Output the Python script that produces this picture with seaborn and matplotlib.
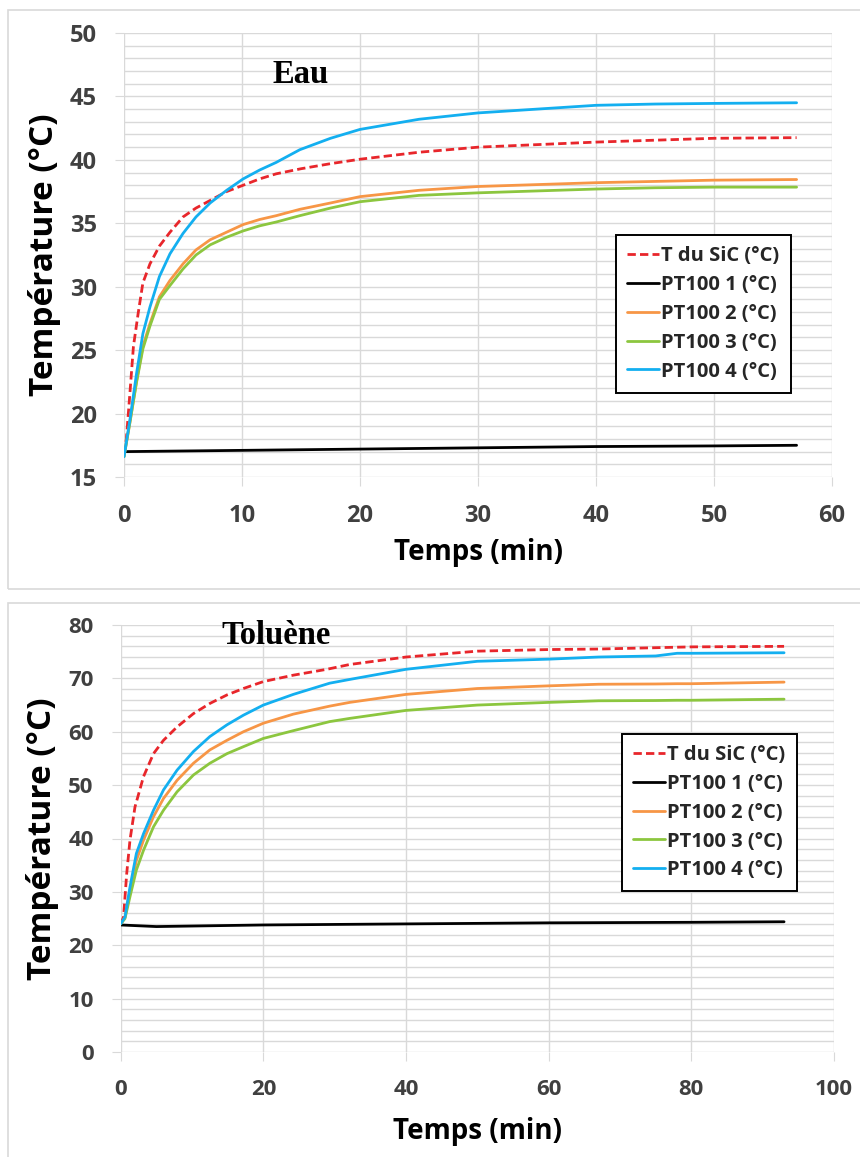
# Heating curves: SiC temperature vs PT100 probes, water and toluene

import matplotlib
matplotlib.use('Agg')
import matplotlib.pyplot as plt
from matplotlib.patches import Rectangle
from matplotlib.ticker import MultipleLocator
import seaborn as sns
import pandas as pd

# ---- Eau (water) readings, time in min, temperature in degC ----
eau_t_sic = [0, 0.2, 0.5, 0.8, 1.2, 1.6, 2.2, 3.0, 3.9, 5.0, 6.1, 7.3, 8.7, 10.1, 11.5, 12.9,
             15.0, 17.5, 20, 25, 30, 35, 40, 45, 50, 57]
eau_sic = [16.8, 18.0, 21.6, 25.3, 27.9, 30.3, 31.8, 33.2, 34.3, 35.5, 36.2, 36.8, 37.5, 38.0, 38.5, 38.9,
           39.3, 39.7, 40.05, 40.6, 41.0, 41.2, 41.4, 41.55, 41.7, 41.75]
eau_t_pt1 = [0, 5, 10, 20, 30, 40, 50, 57]
eau_pt1 = [17.0, 17.05, 17.1, 17.2, 17.3, 17.4, 17.45, 17.5]
eau_t_pt = [0, 0.5, 1.07, 1.6, 2.2, 3.0, 3.9, 5.0, 6.1, 7.3, 8.7, 10.1, 11.5, 12.9, 14.9,
            17.5, 20, 25, 30, 35, 40, 45, 50, 57]
eau_pt2 = [16.6, 19.3, 22.6, 25.3, 27.1, 29.2, 30.5, 31.8, 32.9, 33.7, 34.3, 34.9, 35.3, 35.6, 36.1,
           36.6, 37.1, 37.6, 37.9, 38.05, 38.2, 38.3, 38.4, 38.45]
eau_pt3 = [16.6, 19.3, 22.5, 25.1, 26.9, 29.0, 30.1, 31.4, 32.5, 33.3, 33.9, 34.4, 34.8, 35.1, 35.6,
           36.2, 36.7, 37.2, 37.4, 37.55, 37.7, 37.8, 37.85, 37.85]
eau_pt4 = [16.6, 19.5, 23.2, 26.3, 28.4, 30.8, 32.6, 34.2, 35.5, 36.6, 37.6, 38.5, 39.2, 39.8, 40.8,
           41.7, 42.4, 43.2, 43.7, 44.0, 44.3, 44.4, 44.45, 44.5]

# ---- Toluène readings ----
tol_t_sic = [0, 0.4, 0.84, 1.3, 2.0, 3.2, 4.6, 6.0, 7.9, 10.2, 12.5, 14.9, 17.2, 20, 24.2, 28.9,
             32.1, 40, 50, 60, 67, 80, 93]
tol_sic = [24.0, 25.3, 33.4, 39.7, 45.9, 51.6, 55.9, 58.4, 60.9, 63.4, 65.3, 66.9, 68.1, 69.4, 70.6, 71.7,
           72.6, 74.0, 75.1, 75.4, 75.5, 75.9, 76.0]
tol_t_pt1 = [0, 5, 10, 20, 40, 60, 80, 93]
tol_pt1 = [23.8, 23.5, 23.6, 23.8, 24.0, 24.2, 24.3, 24.4]
tol_t_pt = [0, 0.6, 1.3, 2.2, 3.2, 4.6, 6.0, 7.9, 10.2, 12.5, 14.9, 17.2, 20, 24.2, 29.3,
            32.1, 40, 50, 60, 67, 75, 78, 80, 93]
tol_pt2 = [24.0, 25.2, 30.3, 35.9, 39.7, 44.1, 47.5, 50.9, 54.1, 56.6, 58.4, 60.0, 61.6, 63.3, 64.8,
           65.5, 67.0, 68.1, 68.6, 68.9, 68.95, 69.0, 69.0, 69.3]
tol_pt3 = [24.0, 25.0, 29.1, 34.1, 37.8, 42.2, 45.3, 48.75, 51.9, 54.1, 55.9, 57.2, 58.75, 60.2, 61.9,
           62.5, 64.0, 65.0, 65.5, 65.8, 65.85, 65.9, 65.9, 66.1]
tol_pt4 = [24.0, 25.3, 30.9, 37.2, 40.9, 45.3, 49.1, 52.8, 56.3, 59.1, 61.3, 63.1, 65.0, 67.0, 69.1,
           69.8, 71.7, 73.2, 73.6, 74.0, 74.2, 74.7, 74.7, 74.8]

series_names = ['T du SiC (°C)', 'PT100 1 (°C)', 'PT100 2 (°C)', 'PT100 3 (°C)', 'PT100 4 (°C)']
colors = ['#e8262b', '#000000', '#f79646', '#8cc63f', '#13aff0']


def long_frame(parts):
    """Stack (name, times, temps) tuples into one long table"""
    frames = [pd.DataFrame({'Temps': t, 'Temp': v, 'Serie': name}) for name, t, v in parts]
    return pd.concat(frames, ignore_index=True)


eau_df = long_frame([
    (series_names[0], eau_t_sic, eau_sic),
    (series_names[1], eau_t_pt1, eau_pt1),
    (series_names[2], eau_t_pt, eau_pt2),
    (series_names[3], eau_t_pt, eau_pt3),
    (series_names[4], eau_t_pt, eau_pt4),
])
tol_df = long_frame([
    (series_names[0], tol_t_sic, tol_sic),
    (series_names[1], tol_t_pt1, tol_pt1),
    (series_names[2], tol_t_pt, tol_pt2),
    (series_names[3], tol_t_pt, tol_pt3),
    (series_names[4], tol_t_pt, tol_pt4),
])

sns.set_theme(style='white')
plt.rcParams['font.family'] = ['Open Sans', 'DejaVu Sans']
plt.rcParams['font.weight'] = 'bold'

GRID = '#d9d9d9'
TICK_TXT = '#404040'

fig = plt.figure(figsize=(8.6, 11.57), dpi=100)

# Excel-like chart frames
fig.add_artist(Rectangle((8 / 860, 568 / 1157), 1.0, 579 / 1157, transform=fig.transFigure,
                         fill=False, edgecolor=GRID, lw=1.2))
fig.add_artist(Rectangle((8 / 860, -0.01), 1.0, 554 / 1157 + 0.01, transform=fig.transFigure,
                         fill=False, edgecolor=GRID, lw=1.2))

ax1 = fig.add_axes([124 / 860, 1 - 477 / 1157, 708 / 860, 444 / 1157])
ax2 = fig.add_axes([120.7 / 860, 1 - 1052 / 1157, 713.3 / 860, 427 / 1157])

palette = dict(zip(series_names, colors))
dashes = {n: '' for n in series_names}
dashes[series_names[0]] = (3, 1.5)


def draw_panel(ax, df, xmax, ymin, ymax, xstep, ystep, yminor, title, title_xy,
               leg_anchor, tick_size, xlab_y, ylab_x):
    sns.lineplot(data=df, x='Temps', y='Temp', hue='Serie', style='Serie',
                 hue_order=series_names, style_order=series_names,
                 palette=palette, dashes=dashes, estimator=None, sort=False,
                 linewidth=2.0, legend=False, ax=ax)
    ax.set_xlim(0, xmax)
    ax.set_ylim(ymin, ymax)
    ax.xaxis.set_major_locator(MultipleLocator(xstep))
    ax.yaxis.set_major_locator(MultipleLocator(ystep))
    ax.yaxis.set_minor_locator(MultipleLocator(yminor))
    ax.grid(which='major', axis='x', color=GRID, lw=1)
    ax.grid(which='both', axis='y', color=GRID, lw=1)
    ax.set_axisbelow(True)
    for s in ax.spines.values():
        s.set_visible(False)
    ax.tick_params(which='major', direction='out', length=6.5, width=0.8, color=GRID,
                   labelcolor=TICK_TXT, labelsize=tick_size, pad=13,
                   bottom=True, left=True)
    ax.tick_params(which='minor', length=0)
    for lbl in ax.get_xticklabels() + ax.get_yticklabels():
        lbl.set_fontweight('bold')

    ax.set_xlabel('Temps (min)', fontsize=20, fontweight='bold', color='black')
    ax.set_ylabel('Température (°C)', fontsize=24, fontweight='bold', color='black')
    ax.xaxis.label.set_va('center')
    ax.yaxis.label.set_va('center')
    ax.xaxis.set_label_coords(0.5, xlab_y)
    ax.yaxis.set_label_coords(ylab_x, 0.5)

    ax.text(title_xy[0], title_xy[1], title, transform=ax.transAxes, ha='center',
            va='baseline', fontsize=23.5, fontweight='bold',
            family=['Liberation Serif', 'DejaVu Serif'], color='black')

    leg = ax.legend(handles=list(ax.get_lines())[:5], labels=series_names,
                    loc='upper left', bbox_to_anchor=leg_anchor, borderaxespad=0,
                    frameon=True, fancybox=False, edgecolor='black', framealpha=1,
                    fontsize=14.5, handlelength=1.6, handletextpad=0.1,
                    labelspacing=0.44, borderpad=0.55)
    leg.get_frame().set_linewidth(1.4)
    for t in leg.get_texts():
        t.set_fontweight('bold')
        t.set_color('#262626')


draw_panel(ax1, eau_df, 60, 15, 50, 10, 5, 1, 'Eau', (0.249, 0.888),
           (0.695, 0.545), 17, -0.171, -0.112)
draw_panel(ax2, tol_df, 100, 0, 80, 20, 10, 2, 'Toluène', (0.218, 0.955),
           (0.703, 0.745), 16, -0.187, -0.110)

plt.savefig('out.png', dpi=100)
